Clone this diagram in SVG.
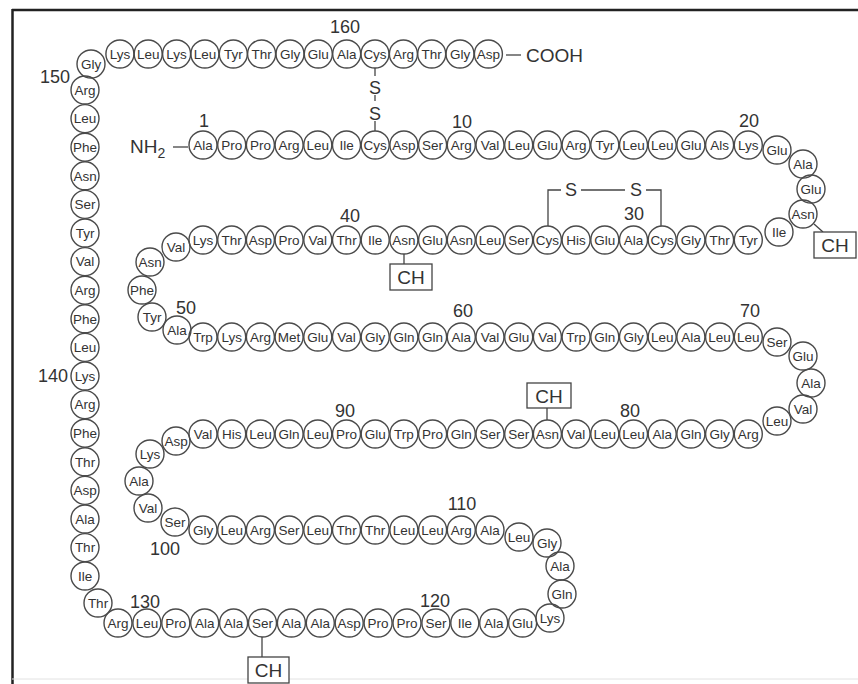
<svg xmlns="http://www.w3.org/2000/svg" width="858" height="684" viewBox="0 0 858 684">
<style>
.r circle{fill:none;stroke:#4a4a4a;stroke-width:1.4}
.r text{font-family:"Liberation Sans",Arial,sans-serif;font-size:13.5px;fill:#333;text-anchor:middle}
.n{font-family:"Liberation Sans",Arial,sans-serif;font-size:18px;fill:#333;text-anchor:middle}
.big{font-family:"Liberation Sans",Arial,sans-serif;font-size:19px;fill:#333}
.ln{stroke:#444;stroke-width:1.3;fill:none}
.box rect{fill:#fff;stroke:#444;stroke-width:1.3}
.box text{font-family:"Liberation Sans",Arial,sans-serif;font-size:19px;fill:#333;text-anchor:middle}
</style>
<rect width="858" height="684" fill="#fff"/>
<g id="frame">
<line x1="12" y1="10" x2="858" y2="10" stroke="#222" stroke-width="2.5"/>
<line x1="12.5" y1="9" x2="12.5" y2="684" stroke="#222" stroke-width="2.5"/>
<line x1="12" y1="679" x2="858" y2="679" stroke="#e2e2e2" stroke-width="1"/>
</g>
<g id="connectors">
<line class="ln" x1="375" y1="68" x2="375" y2="76"/>
<line class="ln" x1="375" y1="95" x2="375" y2="101"/>
<line class="ln" x1="375" y1="121" x2="375" y2="131"/>
<polyline class="ln" points="548,226 548,190 561,190"/>
<line class="ln" x1="581" y1="190" x2="625" y2="190"/>
<polyline class="ln" points="646,190 661,190 661,226"/>
<line class="ln" x1="404" y1="254" x2="404" y2="264"/>
<line class="ln" x1="547" y1="408" x2="547" y2="420"/>
<line class="ln" x1="814" y1="224" x2="823" y2="232"/>
<line class="ln" x1="262" y1="637" x2="262" y2="657"/>
<line class="ln" x1="173" y1="147" x2="188" y2="147"/>
<line class="ln" x1="506" y1="55" x2="521" y2="55"/>
</g>
<g id="termini">
<text class="big" x="130" y="153">NH<tspan font-size="14" dy="5">2</tspan></text>
<text class="big" x="526" y="62">COOH</text>
<text class="n" x="375" y="94">S</text>
<text class="n" x="375" y="120">S</text>
<text class="n" x="571" y="196">S</text>
<text class="n" x="636" y="196">S</text>
</g>
<g id="ch1" class="box"><rect x="390" y="264" width="42" height="26"/><text x="411" y="284">CH</text></g>
<g id="ch2" class="box"><rect x="527" y="383" width="44" height="25"/><text x="549" y="403">CH</text></g>
<g id="ch3" class="box"><rect x="814" y="232" width="42" height="26"/><text x="835" y="252">CH</text></g>
<g id="ch4" class="box"><rect x="248" y="657" width="41" height="26"/><text x="268.5" y="677">CH</text></g>
<g id="numbers">
<text class="n" x="204" y="127">1</text>
<text class="n" x="462" y="128">10</text>
<text class="n" x="749" y="127">20</text>
<text class="n" x="634" y="220">30</text>
<text class="n" x="350" y="222">40</text>
<text class="n" x="186" y="314">50</text>
<text class="n" x="463" y="317">60</text>
<text class="n" x="750" y="317">70</text>
<text class="n" x="630" y="417">80</text>
<text class="n" x="345" y="417">90</text>
<text class="n" x="165" y="555">100</text>
<text class="n" x="462" y="510">110</text>
<text class="n" x="435" y="607">120</text>
<text class="n" x="145" y="608">130</text>
<text class="n" x="53" y="382">140</text>
<text class="n" x="55" y="83">150</text>
<text class="n" x="345" y="33">160</text>
</g>
<g id="residues">
<g id="r1" class="r" transform="translate(203,145)"><circle r="14"/><text y="4.8">Ala</text></g>
<g id="r2" class="r" transform="translate(231.7,145)"><circle r="14"/><text y="4.8">Pro</text></g>
<g id="r3" class="r" transform="translate(260.4,145)"><circle r="14"/><text y="4.8">Pro</text></g>
<g id="r4" class="r" transform="translate(289.1,145)"><circle r="14"/><text y="4.8">Arg</text></g>
<g id="r5" class="r" transform="translate(317.8,145)"><circle r="14"/><text y="4.8">Leu</text></g>
<g id="r6" class="r" transform="translate(346.5,145)"><circle r="14"/><text y="4.8">Ile</text></g>
<g id="r7" class="r" transform="translate(375.2,145)"><circle r="14"/><text y="4.8">Cys</text></g>
<g id="r8" class="r" transform="translate(403.9,145)"><circle r="14"/><text y="4.8">Asp</text></g>
<g id="r9" class="r" transform="translate(432.6,145)"><circle r="14"/><text y="4.8">Ser</text></g>
<g id="r10" class="r" transform="translate(461.3,145)"><circle r="14"/><text y="4.8">Arg</text></g>
<g id="r11" class="r" transform="translate(490,145)"><circle r="14"/><text y="4.8">Val</text></g>
<g id="r12" class="r" transform="translate(518.7,145)"><circle r="14"/><text y="4.8">Leu</text></g>
<g id="r13" class="r" transform="translate(547.4,145)"><circle r="14"/><text y="4.8">Glu</text></g>
<g id="r14" class="r" transform="translate(576.1,145)"><circle r="14"/><text y="4.8">Arg</text></g>
<g id="r15" class="r" transform="translate(604.8,145)"><circle r="14"/><text y="4.8">Tyr</text></g>
<g id="r16" class="r" transform="translate(633.5,145)"><circle r="14"/><text y="4.8">Leu</text></g>
<g id="r17" class="r" transform="translate(662.2,145)"><circle r="14"/><text y="4.8">Leu</text></g>
<g id="r18" class="r" transform="translate(690.9,145)"><circle r="14"/><text y="4.8">Glu</text></g>
<g id="r19" class="r" transform="translate(719.6,145)"><circle r="14"/><text y="4.8">Als</text></g>
<g id="r20" class="r" transform="translate(748.3,145)"><circle r="14"/><text y="4.8">Lys</text></g>
<g id="r21" class="r" transform="translate(777,150)"><circle r="14"/><text y="4.8">Glu</text></g>
<g id="r22" class="r" transform="translate(803,164)"><circle r="14"/><text y="4.8">Ala</text></g>
<g id="r23" class="r" transform="translate(811,189)"><circle r="14"/><text y="4.8">Glu</text></g>
<g id="r24" class="r" transform="translate(803,214)"><circle r="14"/><text y="4.8">Asn</text></g>
<g id="r25" class="r" transform="translate(779,232)"><circle r="14"/><text y="4.8">Ile</text></g>
<g id="r26" class="r" transform="translate(748.3,240)"><circle r="14"/><text y="4.8">Tyr</text></g>
<g id="r27" class="r" transform="translate(719.6,240)"><circle r="14"/><text y="4.8">Thr</text></g>
<g id="r28" class="r" transform="translate(690.9,240)"><circle r="14"/><text y="4.8">Gly</text></g>
<g id="r29" class="r" transform="translate(662.2,240)"><circle r="14"/><text y="4.8">Cys</text></g>
<g id="r30" class="r" transform="translate(633.5,240)"><circle r="14"/><text y="4.8">Ala</text></g>
<g id="r31" class="r" transform="translate(604.8,240)"><circle r="14"/><text y="4.8">Glu</text></g>
<g id="r32" class="r" transform="translate(576.1,240)"><circle r="14"/><text y="4.8">His</text></g>
<g id="r33" class="r" transform="translate(547.4,240)"><circle r="14"/><text y="4.8">Cys</text></g>
<g id="r34" class="r" transform="translate(518.7,240)"><circle r="14"/><text y="4.8">Ser</text></g>
<g id="r35" class="r" transform="translate(490,240)"><circle r="14"/><text y="4.8">Leu</text></g>
<g id="r36" class="r" transform="translate(461.3,240)"><circle r="14"/><text y="4.8">Asn</text></g>
<g id="r37" class="r" transform="translate(432.6,240)"><circle r="14"/><text y="4.8">Glu</text></g>
<g id="r38" class="r" transform="translate(403.9,240)"><circle r="14"/><text y="4.8">Asn</text></g>
<g id="r39" class="r" transform="translate(375.2,240)"><circle r="14"/><text y="4.8">Ile</text></g>
<g id="r40" class="r" transform="translate(346.5,240)"><circle r="14"/><text y="4.8">Thr</text></g>
<g id="r41" class="r" transform="translate(317.8,240)"><circle r="14"/><text y="4.8">Val</text></g>
<g id="r42" class="r" transform="translate(289.1,240)"><circle r="14"/><text y="4.8">Pro</text></g>
<g id="r43" class="r" transform="translate(260.4,240)"><circle r="14"/><text y="4.8">Asp</text></g>
<g id="r44" class="r" transform="translate(231.7,240)"><circle r="14"/><text y="4.8">Thr</text></g>
<g id="r45" class="r" transform="translate(203,240)"><circle r="14"/><text y="4.8">Lys</text></g>
<g id="r46" class="r" transform="translate(176,247)"><circle r="14"/><text y="4.8">Val</text></g>
<g id="r47" class="r" transform="translate(150,262)"><circle r="14"/><text y="4.8">Asn</text></g>
<g id="r48" class="r" transform="translate(142,290)"><circle r="14"/><text y="4.8">Phe</text></g>
<g id="r49" class="r" transform="translate(152,317)"><circle r="14"/><text y="4.8">Tyr</text></g>
<g id="r50" class="r" transform="translate(177,330)"><circle r="14"/><text y="4.8">Ala</text></g>
<g id="r51" class="r" transform="translate(203,337)"><circle r="14"/><text y="4.8">Trp</text></g>
<g id="r52" class="r" transform="translate(231.7,337)"><circle r="14"/><text y="4.8">Lys</text></g>
<g id="r53" class="r" transform="translate(260.4,337)"><circle r="14"/><text y="4.8">Arg</text></g>
<g id="r54" class="r" transform="translate(289.1,337)"><circle r="14"/><text y="4.8">Met</text></g>
<g id="r55" class="r" transform="translate(317.8,337)"><circle r="14"/><text y="4.8">Glu</text></g>
<g id="r56" class="r" transform="translate(346.5,337)"><circle r="14"/><text y="4.8">Val</text></g>
<g id="r57" class="r" transform="translate(375.2,337)"><circle r="14"/><text y="4.8">Gly</text></g>
<g id="r58" class="r" transform="translate(403.9,337)"><circle r="14"/><text y="4.8">Gln</text></g>
<g id="r59" class="r" transform="translate(432.6,337)"><circle r="14"/><text y="4.8">Gln</text></g>
<g id="r60" class="r" transform="translate(461.3,337)"><circle r="14"/><text y="4.8">Ala</text></g>
<g id="r61" class="r" transform="translate(490,337)"><circle r="14"/><text y="4.8">Val</text></g>
<g id="r62" class="r" transform="translate(518.7,337)"><circle r="14"/><text y="4.8">Glu</text></g>
<g id="r63" class="r" transform="translate(547.4,337)"><circle r="14"/><text y="4.8">Val</text></g>
<g id="r64" class="r" transform="translate(576.1,337)"><circle r="14"/><text y="4.8">Trp</text></g>
<g id="r65" class="r" transform="translate(604.8,337)"><circle r="14"/><text y="4.8">Gln</text></g>
<g id="r66" class="r" transform="translate(633.5,337)"><circle r="14"/><text y="4.8">Gly</text></g>
<g id="r67" class="r" transform="translate(662.2,337)"><circle r="14"/><text y="4.8">Leu</text></g>
<g id="r68" class="r" transform="translate(690.9,337)"><circle r="14"/><text y="4.8">Ala</text></g>
<g id="r69" class="r" transform="translate(719.6,337)"><circle r="14"/><text y="4.8">Leu</text></g>
<g id="r70" class="r" transform="translate(748.3,337)"><circle r="14"/><text y="4.8">Leu</text></g>
<g id="r71" class="r" transform="translate(777,342)"><circle r="14"/><text y="4.8">Ser</text></g>
<g id="r72" class="r" transform="translate(803,356)"><circle r="14"/><text y="4.8">Glu</text></g>
<g id="r73" class="r" transform="translate(811,383)"><circle r="14"/><text y="4.8">Ala</text></g>
<g id="r74" class="r" transform="translate(803,409)"><circle r="14"/><text y="4.8">Val</text></g>
<g id="r75" class="r" transform="translate(777,421)"><circle r="14"/><text y="4.8">Leu</text></g>
<g id="r76" class="r" transform="translate(748.3,434)"><circle r="14"/><text y="4.8">Arg</text></g>
<g id="r77" class="r" transform="translate(719.6,434)"><circle r="14"/><text y="4.8">Gly</text></g>
<g id="r78" class="r" transform="translate(690.9,434)"><circle r="14"/><text y="4.8">Gln</text></g>
<g id="r79" class="r" transform="translate(662.2,434)"><circle r="14"/><text y="4.8">Ala</text></g>
<g id="r80" class="r" transform="translate(633.5,434)"><circle r="14"/><text y="4.8">Leu</text></g>
<g id="r81" class="r" transform="translate(604.8,434)"><circle r="14"/><text y="4.8">Leu</text></g>
<g id="r82" class="r" transform="translate(576.1,434)"><circle r="14"/><text y="4.8">Val</text></g>
<g id="r83" class="r" transform="translate(547.4,434)"><circle r="14"/><text y="4.8">Asn</text></g>
<g id="r84" class="r" transform="translate(518.7,434)"><circle r="14"/><text y="4.8">Ser</text></g>
<g id="r85" class="r" transform="translate(490,434)"><circle r="14"/><text y="4.8">Ser</text></g>
<g id="r86" class="r" transform="translate(461.3,434)"><circle r="14"/><text y="4.8">Gln</text></g>
<g id="r87" class="r" transform="translate(432.6,434)"><circle r="14"/><text y="4.8">Pro</text></g>
<g id="r88" class="r" transform="translate(403.9,434)"><circle r="14"/><text y="4.8">Trp</text></g>
<g id="r89" class="r" transform="translate(375.2,434)"><circle r="14"/><text y="4.8">Glu</text></g>
<g id="r90" class="r" transform="translate(346.5,434)"><circle r="14"/><text y="4.8">Pro</text></g>
<g id="r91" class="r" transform="translate(317.8,434)"><circle r="14"/><text y="4.8">Leu</text></g>
<g id="r92" class="r" transform="translate(289.1,434)"><circle r="14"/><text y="4.8">Gln</text></g>
<g id="r93" class="r" transform="translate(260.4,434)"><circle r="14"/><text y="4.8">Leu</text></g>
<g id="r94" class="r" transform="translate(231.7,434)"><circle r="14"/><text y="4.8">His</text></g>
<g id="r95" class="r" transform="translate(203,434)"><circle r="14"/><text y="4.8">Val</text></g>
<g id="r96" class="r" transform="translate(176,441)"><circle r="14"/><text y="4.8">Asp</text></g>
<g id="r97" class="r" transform="translate(150,454)"><circle r="14"/><text y="4.8">Lys</text></g>
<g id="r98" class="r" transform="translate(139,481)"><circle r="14"/><text y="4.8">Ala</text></g>
<g id="r99" class="r" transform="translate(148,508)"><circle r="14"/><text y="4.8">Val</text></g>
<g id="r100" class="r" transform="translate(175,522)"><circle r="14"/><text y="4.8">Ser</text></g>
<g id="r101" class="r" transform="translate(203,530)"><circle r="14"/><text y="4.8">Gly</text></g>
<g id="r102" class="r" transform="translate(231.7,530)"><circle r="14"/><text y="4.8">Leu</text></g>
<g id="r103" class="r" transform="translate(260.4,530)"><circle r="14"/><text y="4.8">Arg</text></g>
<g id="r104" class="r" transform="translate(289.1,530)"><circle r="14"/><text y="4.8">Ser</text></g>
<g id="r105" class="r" transform="translate(317.8,530)"><circle r="14"/><text y="4.8">Leu</text></g>
<g id="r106" class="r" transform="translate(346.5,530)"><circle r="14"/><text y="4.8">Thr</text></g>
<g id="r107" class="r" transform="translate(375.2,530)"><circle r="14"/><text y="4.8">Thr</text></g>
<g id="r108" class="r" transform="translate(403.9,530)"><circle r="14"/><text y="4.8">Leu</text></g>
<g id="r109" class="r" transform="translate(432.6,530)"><circle r="14"/><text y="4.8">Leu</text></g>
<g id="r110" class="r" transform="translate(461.3,530)"><circle r="14"/><text y="4.8">Arg</text></g>
<g id="r111" class="r" transform="translate(490,530)"><circle r="14"/><text y="4.8">Ala</text></g>
<g id="r112" class="r" transform="translate(519,537)"><circle r="14"/><text y="4.8">Leu</text></g>
<g id="r113" class="r" transform="translate(547,543)"><circle r="14"/><text y="4.8">Gly</text></g>
<g id="r114" class="r" transform="translate(560,566)"><circle r="14"/><text y="4.8">Ala</text></g>
<g id="r115" class="r" transform="translate(562,594)"><circle r="14"/><text y="4.8">Gln</text></g>
<g id="r116" class="r" transform="translate(550,618)"><circle r="14"/><text y="4.8">Lys</text></g>
<g id="r117" class="r" transform="translate(522.6,623)"><circle r="14"/><text y="4.8">Glu</text></g>
<g id="r118" class="r" transform="translate(493.7,623)"><circle r="14"/><text y="4.8">Ala</text></g>
<g id="r119" class="r" transform="translate(464.8,623)"><circle r="14"/><text y="4.8">Ile</text></g>
<g id="r120" class="r" transform="translate(435.9,623)"><circle r="14"/><text y="4.8">Ser</text></g>
<g id="r121" class="r" transform="translate(407,623)"><circle r="14"/><text y="4.8">Pro</text></g>
<g id="r122" class="r" transform="translate(378.1,623)"><circle r="14"/><text y="4.8">Pro</text></g>
<g id="r123" class="r" transform="translate(349.2,623)"><circle r="14"/><text y="4.8">Asp</text></g>
<g id="r124" class="r" transform="translate(320.3,623)"><circle r="14"/><text y="4.8">Ala</text></g>
<g id="r125" class="r" transform="translate(291.4,623)"><circle r="14"/><text y="4.8">Ala</text></g>
<g id="r126" class="r" transform="translate(262.5,623)"><circle r="14"/><text y="4.8">Ser</text></g>
<g id="r127" class="r" transform="translate(233.6,623)"><circle r="14"/><text y="4.8">Ala</text></g>
<g id="r128" class="r" transform="translate(204.7,623)"><circle r="14"/><text y="4.8">Ala</text></g>
<g id="r129" class="r" transform="translate(175.8,623)"><circle r="14"/><text y="4.8">Pro</text></g>
<g id="r130" class="r" transform="translate(146.9,623)"><circle r="14"/><text y="4.8">Leu</text></g>
<g id="r131" class="r" transform="translate(118,623)"><circle r="14"/><text y="4.8">Arg</text></g>
<g id="r132" class="r" transform="translate(98,603)"><circle r="14"/><text y="4.8">Thr</text></g>
<g id="r133" class="r" transform="translate(85,576)"><circle r="14"/><text y="4.8">Ile</text></g>
<g id="r134" class="r" transform="translate(85,547.6)"><circle r="14"/><text y="4.8">Thr</text></g>
<g id="r135" class="r" transform="translate(85,519)"><circle r="14"/><text y="4.8">Ala</text></g>
<g id="r136" class="r" transform="translate(85,490.4)"><circle r="14"/><text y="4.8">Asp</text></g>
<g id="r137" class="r" transform="translate(85,461.8)"><circle r="14"/><text y="4.8">Thr</text></g>
<g id="r138" class="r" transform="translate(85,433.2)"><circle r="14"/><text y="4.8">Phe</text></g>
<g id="r139" class="r" transform="translate(85,404.6)"><circle r="14"/><text y="4.8">Arg</text></g>
<g id="r140" class="r" transform="translate(85,376)"><circle r="14"/><text y="4.8">Lys</text></g>
<g id="r141" class="r" transform="translate(85,347.4)"><circle r="14"/><text y="4.8">Leu</text></g>
<g id="r142" class="r" transform="translate(85,318.8)"><circle r="14"/><text y="4.8">Phe</text></g>
<g id="r143" class="r" transform="translate(85,290.2)"><circle r="14"/><text y="4.8">Arg</text></g>
<g id="r144" class="r" transform="translate(85,261.6)"><circle r="14"/><text y="4.8">Val</text></g>
<g id="r145" class="r" transform="translate(85,233)"><circle r="14"/><text y="4.8">Tyr</text></g>
<g id="r146" class="r" transform="translate(85,204.4)"><circle r="14"/><text y="4.8">Ser</text></g>
<g id="r147" class="r" transform="translate(85,175.8)"><circle r="14"/><text y="4.8">Asn</text></g>
<g id="r148" class="r" transform="translate(85,147.2)"><circle r="14"/><text y="4.8">Phe</text></g>
<g id="r149" class="r" transform="translate(85,118.6)"><circle r="14"/><text y="4.8">Leu</text></g>
<g id="r150" class="r" transform="translate(85,90)"><circle r="14"/><text y="4.8">Arg</text></g>
<g id="r151" class="r" transform="translate(91,64)"><circle r="14"/><text y="4.8">Gly</text></g>
<g id="r152" class="r" transform="translate(119.9,54)"><circle r="14"/><text y="4.8">Lys</text></g>
<g id="r153" class="r" transform="translate(148.2,54)"><circle r="14"/><text y="4.8">Leu</text></g>
<g id="r154" class="r" transform="translate(176.6,54)"><circle r="14"/><text y="4.8">Lys</text></g>
<g id="r155" class="r" transform="translate(204.9,54)"><circle r="14"/><text y="4.8">Leu</text></g>
<g id="r156" class="r" transform="translate(233.3,54)"><circle r="14"/><text y="4.8">Tyr</text></g>
<g id="r157" class="r" transform="translate(261.6,54)"><circle r="14"/><text y="4.8">Thr</text></g>
<g id="r158" class="r" transform="translate(290,54)"><circle r="14"/><text y="4.8">Gly</text></g>
<g id="r159" class="r" transform="translate(318.3,54)"><circle r="14"/><text y="4.8">Glu</text></g>
<g id="r160" class="r" transform="translate(346.7,54)"><circle r="14"/><text y="4.8">Ala</text></g>
<g id="r161" class="r" transform="translate(375,54)"><circle r="14"/><text y="4.8">Cys</text></g>
<g id="r162" class="r" transform="translate(403.4,54)"><circle r="14"/><text y="4.8">Arg</text></g>
<g id="r163" class="r" transform="translate(431.7,54)"><circle r="14"/><text y="4.8">Thr</text></g>
<g id="r164" class="r" transform="translate(460,54)"><circle r="14"/><text y="4.8">Gly</text></g>
<g id="r165" class="r" transform="translate(488.4,54)"><circle r="14"/><text y="4.8">Asp</text></g>
</g>
</svg>
